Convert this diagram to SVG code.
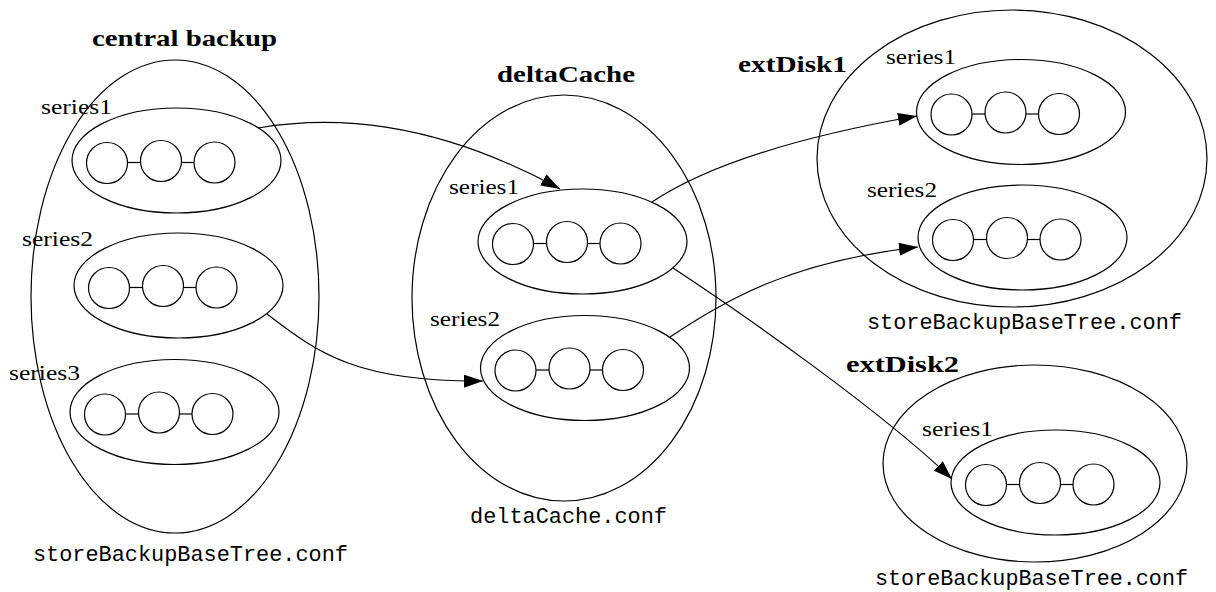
<svg xmlns="http://www.w3.org/2000/svg" width="1216" height="592" viewBox="0 0 1216 592">
<style>
.sh{fill:none;stroke:#000;stroke-width:1.2}
.ln{fill:none;stroke:#000;stroke-width:1.2}
.lbl{font-family:"Liberation Serif","Times New Roman",serif;font-size:22px;fill:#000}
.ttl{font-family:"Liberation Serif","Times New Roman",serif;font-size:24px;font-weight:bold;fill:#000}
.cf{font-family:"Liberation Mono","Courier New",monospace;font-size:21.5px;fill:#000}
</style>
<defs>
<marker id="ah" markerUnits="userSpaceOnUse" viewBox="0 0 19 13" refX="19" refY="6.5" markerWidth="19" markerHeight="13" orient="auto">
<path d="M0,0 L19,6.5 L0,13 z" fill="#000"/>
</marker>
<g id="chain">
<ellipse class="sh" cx="0" cy="0" rx="104.5" ry="52.5"/>
<circle class="sh" cx="-69.5" cy="2.5" r="20.5"/>
<circle class="sh" cx="-15.5" cy="0.5" r="20.5"/>
<circle class="sh" cx="38" cy="2" r="20.5"/>
<line class="sh" x1="-49" y1="2" x2="-36" y2="2"/>
<line class="sh" x1="5" y1="2" x2="17.5" y2="2"/>
</g>
</defs>

<g id="central">
<ellipse class="sh" cx="175" cy="296.5" rx="144" ry="236.5"/>
<text class="ttl" x="92" y="46" textLength="185" lengthAdjust="spacingAndGlyphs">central backup</text>
<text class="cf" x="33" y="561" textLength="315" lengthAdjust="spacingAndGlyphs">storeBackupBaseTree.conf</text>
<g id="central-series1"><use href="#chain" transform="translate(176.5,160.5)"/><text class="lbl" x="41" y="113.5" textLength="71" lengthAdjust="spacingAndGlyphs">series1</text></g>
<g id="central-series2"><use href="#chain" transform="translate(178.5,285.5)"/><text class="lbl" x="22" y="246" textLength="71" lengthAdjust="spacingAndGlyphs">series2</text></g>
<g id="central-series3"><use href="#chain" transform="translate(174.5,412)"/><text class="lbl" x="9" y="380" textLength="71" lengthAdjust="spacingAndGlyphs">series3</text></g>
</g>

<g id="deltaCache">
<ellipse class="sh" cx="564" cy="298" rx="152" ry="203"/>
<text class="ttl" x="497" y="82" textLength="138" lengthAdjust="spacingAndGlyphs">deltaCache</text>
<text class="cf" x="470" y="523" textLength="197" lengthAdjust="spacingAndGlyphs">deltaCache.conf</text>
<g id="delta-series1"><use href="#chain" transform="translate(582.5,241.5)"/><text class="lbl" x="449" y="194" textLength="70" lengthAdjust="spacingAndGlyphs">series1</text></g>
<g id="delta-series2"><use href="#chain" transform="translate(585,368)"/><text class="lbl" x="430" y="326" textLength="70" lengthAdjust="spacingAndGlyphs">series2</text></g>
</g>

<g id="extDisk1">
<ellipse class="sh" cx="1012" cy="158.5" rx="195" ry="148.5"/>
<text class="ttl" x="738" y="72" textLength="109" lengthAdjust="spacingAndGlyphs">extDisk1</text>
<text class="cf" x="867" y="329" textLength="315" lengthAdjust="spacingAndGlyphs">storeBackupBaseTree.conf</text>
<g id="ext1-series1"><use href="#chain" transform="translate(1021,112)"/><text class="lbl" x="886" y="64" textLength="70" lengthAdjust="spacingAndGlyphs">series1</text></g>
<g id="ext1-series2"><use href="#chain" transform="translate(1022.5,237.5)"/><text class="lbl" x="867" y="197" textLength="70" lengthAdjust="spacingAndGlyphs">series2</text></g>
</g>

<g id="extDisk2">
<ellipse class="sh" cx="1035" cy="463.5" rx="152" ry="98.5"/>
<text class="ttl" x="846" y="372" textLength="113" lengthAdjust="spacingAndGlyphs">extDisk2</text>
<text class="cf" x="875" y="585" textLength="313" lengthAdjust="spacingAndGlyphs">storeBackupBaseTree.conf</text>
<g id="ext2-series1"><use href="#chain" transform="translate(1055.5,482.5)"/><text class="lbl" x="922" y="436" textLength="71" lengthAdjust="spacingAndGlyphs">series1</text></g>
</g>

<g id="connectors">
<path class="ln" d="M258,128 C330,116 430,118 560,189" marker-end="url(#ah)"/>
<path class="ln" d="M267,314 C320,355 360,382 483,381" marker-end="url(#ah)"/>
<path class="ln" d="M652,202 C700,170 780,140 917,116" marker-end="url(#ah)"/>
<path class="ln" d="M670,337 C725,300 790,262 918,247" marker-end="url(#ah)"/>
<path class="ln" d="M673,268 C740,312 880,410 952,479" marker-end="url(#ah)"/>
</g>
</svg>
